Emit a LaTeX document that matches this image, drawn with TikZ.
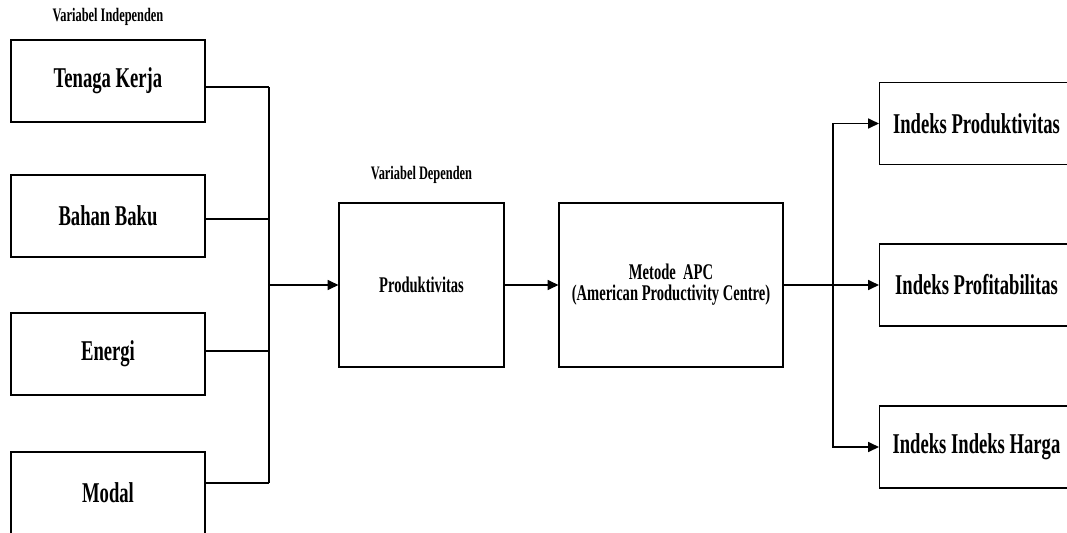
\documentclass[tikz,border=0pt]{standalone}
\usepackage{fontspec}
\setmainfont{Liberation Serif}[FakeStretch=0.65]
\usepackage{tikz}
\usetikzlibrary{arrows.meta,positioning}

\begin{document}
\begin{tikzpicture}[x=0.75pt, y=-0.75pt, line width=0.9pt,
    every node/.style={font=\bfseries, align=center},
    varbox/.style={draw, minimum width=145.5pt, minimum height=61.5pt, font=\bfseries\fontsize{21.5}{24}\selectfont},
    midbox/.style={draw, minimum height=123pt, font=\bfseries\fontsize{16.8}{15.75}\selectfont},
    caption/.style={font=\bfseries\fontsize{14.3}{16}\selectfont},
    arr/.style={-{Triangle[length=8pt, width=7.5pt]}}]

\useasboundingbox (0,0) rectangle (1067,532);
\clip (0,0) rectangle (1067,532);

\node[caption] (indep) at (108,17) {Variabel Independen};
\node[varbox] (tk) at (108,81) {Tenaga Kerja};
\node[varbox] (bb) at (108,216) {Bahan Baku};
\node[varbox] (en) at (108,354) {Energi};
\node[varbox] (md) at (108,493) {Modal};

\node[caption] (dep) at (421.5,175) {Variabel Dependen};
\node[midbox, minimum width=123.75pt] (prod) at (421.5,285) {Produktivitas};
\node[midbox, minimum width=168pt] (apc) at (671,285) {Metode\ \ APC\\(American Productivity Centre)};

\node[varbox] (ip) at (976.5,123.5) {Indeks Produktivitas};
\node[varbox] (ipf) at (976.5,285) {Indeks Profitabilitas};
\node[varbox] (ih) at (976.5,447) {Indeks Indeks Harga};

\coordinate (b1) at (269,87);
\coordinate (b2) at (269,219);
\coordinate (b3) at (269,351);
\coordinate (b4) at (269,483);
\coordinate (join) at (269,285);
\coordinate (hub) at (833,285);

\draw (tk.east |- b1) -- (b1);
\draw (bb.east |- b2) -- (b2);
\draw (en.east |- b3) -- (b3);
\draw (md.east |- b4) -- (b4);
\draw (b1) -- (b4);
\draw[arr] (join) -- (prod);
\draw[arr] (prod) -- (apc);
\draw (apc) -- (hub);
\draw[arr] (hub) |- (ip);
\draw[arr] (hub) -- (ipf);
\draw[arr] (hub) |- (ih);
\end{tikzpicture}
\end{document}
